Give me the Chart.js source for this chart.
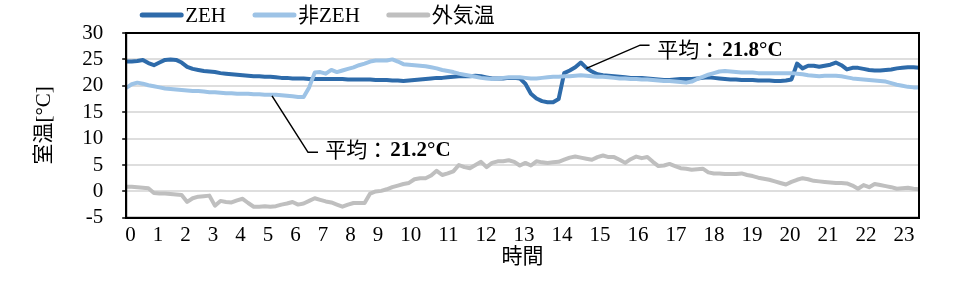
<!DOCTYPE html>
<html>
<head>
<meta charset="utf-8">
<script src="https://cdn.jsdelivr.net/npm/chart.js@4.4.1/dist/chart.umd.min.js"></script>
<style>
html,body{margin:0;padding:0;background:#fff;}
#wrap{width:957px;height:281px;}
</style>
</head>
<body>
<div id="wrap"><canvas id="c" width="957" height="281"></canvas></div>
<script>
// ---------- data ----------
const hourLabels = ['0','1','2','3','4','5','6','7','8','9','10','11','12','13','14','15','16','17','18','19','20','21','22','23'];
const seriesNames = ['ZEH', '非ZEH', '外気温'];

// 10-minute readings, 0:00 - 23:50
const zehTemp = [
 24.6,24.6,24.7,24.9,24.3,23.9,24.4,24.9,25.0,24.9,
 24.4,23.6,23.2,23.0,22.8,22.7,22.6,22.4,22.3,22.2,
 22.1,22.0,21.9,21.8,21.8,21.7,21.7,21.6,21.5,21.5,
 21.4,21.4,21.4,21.3,21.3,21.3,21.3,21.3,21.3,21.3,
 21.2,21.2,21.2,21.2,21.2,21.1,21.1,21.1,21.0,21.0,
 20.9,21.0,21.1,21.2,21.3,21.4,21.5,21.5,21.6,21.7,
 21.8,21.8,21.8,21.9,21.8,21.6,21.4,21.4,21.4,21.5,
 21.5,21.4,20.4,18.5,17.6,17.1,16.9,16.9,17.5,22.4,
 22.9,23.5,24.4,23.4,22.7,22.2,22.0,21.9,21.8,21.7,
 21.6,21.5,21.5,21.5,21.4,21.3,21.2,21.1,21.1,21.2,
 21.3,21.3,21.3,21.4,21.5,21.6,21.5,21.4,21.3,21.2,
 21.2,21.1,21.1,21.1,21.0,21.0,21.0,20.9,20.9,21.0,
 21.2,24.2,23.3,23.8,23.8,23.6,23.8,24.0,24.4,23.9,
 23.1,23.4,23.4,23.2,23.0,22.9,22.9,23.0,23.1,23.3,
 23.4,23.5,23.5,23.4
];
const nonZehTemp = [
 19.6,20.3,20.6,20.4,20.1,19.9,19.7,19.5,19.4,19.3,
 19.2,19.1,19.0,19.0,18.9,18.8,18.8,18.7,18.6,18.6,
 18.5,18.5,18.5,18.4,18.4,18.3,18.3,18.3,18.2,18.1,
 18.0,17.9,17.9,19.7,22.5,22.6,22.3,23.0,22.6,22.9,
 23.2,23.5,23.9,24.2,24.6,24.8,24.8,24.8,25.0,24.6,
 24.1,24.0,23.9,23.8,23.7,23.5,23.3,23.0,22.8,22.6,
 22.3,22.1,21.9,21.7,21.5,21.4,21.3,21.4,21.5,21.6,
 21.6,21.6,21.5,21.4,21.4,21.5,21.6,21.7,21.7,21.8,
 21.8,21.9,22.0,21.9,21.8,21.7,21.7,21.6,21.5,21.4,
 21.4,21.3,21.3,21.2,21.2,21.1,21.0,20.9,20.9,20.8,
 20.7,20.6,20.8,21.3,21.7,22.1,22.4,22.7,22.8,22.7,
 22.6,22.5,22.5,22.5,22.4,22.4,22.4,22.4,22.4,22.4,
 22.4,22.3,22.2,22.0,21.9,21.8,21.9,21.9,21.9,21.8,
 21.6,21.4,21.3,21.2,21.1,21.0,20.9,20.8,20.5,20.2,
 20.0,19.8,19.7,19.7
];
const outdoorTemp = [
 0.9,0.9,0.8,0.7,0.6,-0.3,-0.4,-0.4,-0.5,-0.6,
 -0.7,-2.0,-1.3,-1.0,-0.9,-0.8,-2.7,-1.8,-2.0,-2.1,
 -1.7,-1.4,-2.2,-2.9,-2.9,-2.8,-2.9,-2.8,-2.5,-2.3,
 -2.0,-2.5,-2.3,-1.8,-1.3,-1.6,-1.9,-2.1,-2.5,-2.9,
 -2.5,-2.2,-2.2,-2.2,-0.4,0.0,0.1,0.4,0.8,1.1,
 1.4,1.6,2.3,2.5,2.5,3.0,3.9,3.1,3.4,3.8,
 5.0,4.6,4.4,5.0,5.6,4.6,5.4,5.7,5.7,5.9,
 5.6,4.9,5.4,4.9,5.7,5.5,5.4,5.5,5.6,6.0,
 6.4,6.6,6.4,6.2,6.0,6.5,6.8,6.5,6.5,6.0,
 5.4,6.1,6.6,6.3,6.5,5.6,4.8,4.9,5.2,4.8,
 4.4,4.3,4.1,4.2,4.3,3.6,3.4,3.4,3.3,3.3,
 3.3,3.4,3.1,2.9,2.6,2.4,2.2,1.9,1.6,1.3,
 1.8,2.2,2.5,2.3,2.0,1.9,1.8,1.7,1.6,1.6,
 1.5,1.1,0.5,1.2,0.8,1.4,1.2,1.0,0.8,0.5,
 0.6,0.7,0.5,0.4
];
// minutes since midnight for each reading (10-minute grid)
const timeMinutes = zehTemp.map((_, i) => i * 10);

const avgPrefix = '平均：';
const avgValues = ['21.8°C', '21.2°C'];

// ---------- styling / annotation geometry ----------
const colors = ['#2E6BAA', '#9DC3E6', '#BFBFBF'];
const serif = '"Liberation Serif", "Times New Roman", "Noto Sans CJK JP", serif';
const FS = 21;
// callouts, in data units (minutes, °C)
const callouts = [
  { value: avgValues[0], path: [[830, 23.3], [927, 27.7], [944, 27.7]], text: [958, 26.95] },
  { value: avgValues[1], path: [[263, 18.1], [328, 7.4], [346, 7.4]], text: [359, 8.0] }
];

const toPts = arr => arr.map((v, i) => ({ x: timeMinutes[i], y: v }));

const datasets = [
  { label: seriesNames[0], data: toPts(zehTemp), borderColor: colors[0], order: 3 },
  { label: seriesNames[1], data: toPts(nonZehTemp), borderColor: colors[1], order: 2 },
  { label: seriesNames[2], data: toPts(outdoorTemp), borderColor: colors[2], order: 1 }
].map(d => Object.assign(d, { borderWidth: 4, pointRadius: 0, tension: 0, fill: false,
  borderJoinStyle: 'round', borderCapStyle: 'round', backgroundColor: d.borderColor }));

// place hour labels as a flowing run of text along the axis, like the original
const flowTicks = {
  id: 'flowTicks',
  afterLayout(chart) {
    const s = chart.scales.x;
    const ctx = chart.ctx;
    ctx.save();
    ctx.font = FS + 'px ' + serif;
    let x = s.left - 1;
    const gap = 17;
    s.ticks.forEach((t, k) => {
      const w = ctx.measureText(hourLabels[k]).width;
      t.value = s.getValueForPixel(x + w / 2);
      x += w + gap;
    });
    ctx.restore();
    s._labelItems = null;
    s._gridLineItems = null;
  }
};

const frame = {
  id: 'frame',
  afterDraw(chart) {
    const a = chart.chartArea, ctx = chart.ctx;
    ctx.save();
    ctx.strokeStyle = '#000';
    ctx.lineWidth = 2;
    ctx.strokeRect(a.left, a.top, a.right - a.left, a.bottom - a.top);
    ctx.restore();
  }
};

const lineLegend = {
  id: 'lineLegend',
  afterDraw(chart) {
    const ctx = chart.ctx, a = chart.chartArea;
    let x = a.left + 14;
    const y = 15;
    ctx.save();
    ctx.font = FS + 'px ' + serif;
    ctx.textBaseline = 'middle';
    ctx.textAlign = 'left';
    chart.data.datasets.forEach(ds => {
      ctx.strokeStyle = ds.borderColor;
      ctx.lineWidth = 5;
      ctx.lineCap = 'round';
      ctx.beginPath(); ctx.moveTo(x + 2, y); ctx.lineTo(x + 41, y); ctx.stroke();
      x += 45;
      ctx.fillStyle = '#000';
      ctx.fillText(ds.label, x, y + 1);
      x += ctx.measureText(ds.label).width + 27;
    });
    ctx.restore();
  }
};

const calloutPlugin = {
  id: 'callouts',
  afterDatasetsDraw(chart) {
    const ctx = chart.ctx, sx = chart.scales.x, sy = chart.scales.y;
    ctx.save();
    callouts.forEach(c => {
      ctx.strokeStyle = '#000';
      ctx.lineWidth = 1.5;
      ctx.beginPath();
      c.path.forEach((p, i) => {
        const px = sx.getPixelForValue(p[0]), py = sy.getPixelForValue(p[1]);
        if (i === 0) ctx.moveTo(px, py); else ctx.lineTo(px, py);
      });
      ctx.stroke();
      let tx = sx.getPixelForValue(c.text[0]);
      const ty = sy.getPixelForValue(c.text[1]);
      ctx.fillStyle = '#000';
      ctx.textBaseline = 'middle';
      ctx.textAlign = 'left';
      ctx.font = FS + 'px "Noto Sans CJK JP", sans-serif';
      ctx.fillText(avgPrefix, tx, ty);
      tx += ctx.measureText(avgPrefix).width + 2;
      ctx.font = 'bold ' + FS + 'px ' + serif;
      ctx.fillText(c.value, tx, ty + 1);
    });
    ctx.restore();
  }
};

new Chart(document.getElementById('c'), {
  type: 'line',
  data: { datasets },
  plugins: [flowTicks, calloutPlugin, frame, lineLegend],
  options: {
    responsive: false,
    animation: false,
    layout: { padding: { top: 33, right: 38, bottom: 7, left: 10 } },
    plugins: { legend: { display: false }, tooltip: { enabled: false } },
    scales: {
      x: {
        type: 'linear', min: 0, max: 1430,
        afterBuildTicks: s => { s.ticks = hourLabels.map((_, k) => ({ value: k * 60 })); },
        ticks: { autoSkip: false, maxRotation: 0, padding: 5, color: '#000',
                 font: { family: serif, size: FS },
                 callback: (v, i) => hourLabels[i] },
        grid: { display: false, drawTicks: false },
        border: { display: true, color: '#000', width: 2 },
        title: { display: true, text: '時間', color: '#000',
                 font: { family: serif, size: FS, lineHeight: 1 }, padding: { top: -6, bottom: 6 } }
      },
      y: {
        min: -5, max: 30,
        ticks: { autoSkip: false, stepSize: 5, padding: 19, color: '#000', font: { family: serif, size: FS } },
        grid: { color: '#dedede', lineWidth: 2, tickColor: '#000', tickLength: 4, tickWidth: 1.5 },
        border: { display: true, color: '#000', width: 2 },
        title: { display: true, text: '室温[°C]', color: '#000',
                 font: { family: serif, size: FS }, padding: { top: 22, bottom: 6 } }
      }
    }
  }
});
</script>
</body>
</html>
